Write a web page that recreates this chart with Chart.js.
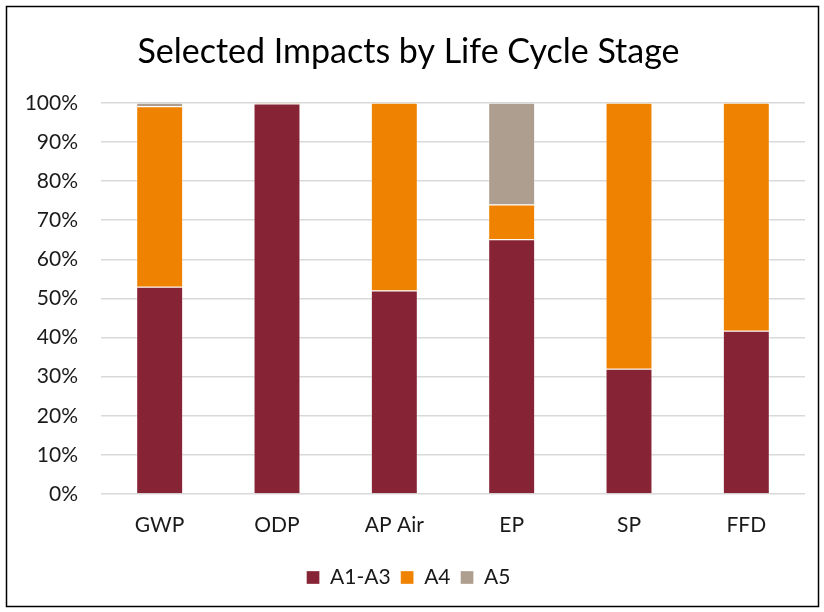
<!DOCTYPE html>
<html>
<head>
<meta charset="utf-8">
<script src="https://cdn.jsdelivr.net/npm/chart.js@4/dist/chart.umd.min.js"></script>
<style>
  html, body { margin: 0; padding: 0; background: #fff; }
  #wrap { width: 824px; height: 612px; position: relative; }
</style>
</head>
<body>
<div id="wrap"><canvas id="canvas1" width="824" height="612"></canvas></div>
<script>
const categories = ['GWP', 'ODP', 'AP Air', 'EP', 'SP', 'FFD'];
const a1a3 = [53.0, 99.8, 52.0, 65.1, 32.0, 41.7];
const a4 = [46.1, 0.2, 48.0, 8.9, 68.0, 58.3];
const a5 = [0.9, 0, 0, 26.0, 0, 0];
const yTicks = [0, 10, 20, 30, 40, 50, 60, 70, 80, 90, 100];

const fontFam = 'Lato, "Open Sans", sans-serif';

// black frame round the whole picture
const framePlugin = {
    id: 'frame',
    afterDraw(chart) {
        const ctx = chart.ctx;
        ctx.save();
        ctx.strokeStyle = '#000';
        ctx.lineWidth = 1.5;
        ctx.strokeRect(6.5, 6.5, chart.width - 12, chart.height - 12);
        ctx.restore();
    }
};

const mk = (label, data, color) => ({
    label: label,
    data: data,
    backgroundColor: color,
    borderColor: 'rgba(255,255,255,0.35)',
    borderWidth: 1,
    categoryPercentage: 1.0,
    barPercentage: 0.4
});

const data = {
    labels: categories,
    datasets: [
        mk('A1-A3', a1a3, '#862334'),
        mk('A4', a4, '#EF8200'),
        mk('A5', a5, '#AD9E90')
    ]
};

const config = {
    type: 'bar',
    data: data,
    plugins: [framePlugin],
    options: {
        responsive: false,
        animation: false,
        layout: { padding: { left: 12, right: 19, top: 10, bottom: 14 } },
        plugins: {
            title: {
                display: true,
                text: 'Selected Impacts by Life Cycle Stage',
                color: '#000',
                font: { family: fontFam, size: 34, weight: 'normal' },
                padding: { top: 22, bottom: 30 }
            },
            legend: {
                display: true,
                position: 'bottom',
                labels: {
                    boxWidth: 13,
                    boxHeight: 13,
                    color: '#1a1a1a',
                    font: { family: fontFam, size: 21 },
                    padding: 10
                }
            },
            tooltip: { enabled: false }
        },
        scales: {
            x: {
                stacked: true,
                afterFit: (scale) => { scale.height = 63; },
                grid: { display: false, drawTicks: false },
                border: { display: false },
                ticks: { color: '#1a1a1a', font: { family: fontFam, size: 21 }, padding: 19 }
            },
            y: {
                stacked: true,
                min: 0,
                max: 100,
                afterFit: (scale) => { scale.width = 89; },
                afterBuildTicks: (scale) => { scale.ticks = yTicks.map(v => ({ value: v })); },
                grid: { color: '#D9D9D9', lineWidth: 1.5, drawTicks: false },
                border: { display: false },
                ticks: {
                    color: '#1a1a1a',
                    font: { family: fontFam, size: 21 },
                    padding: 23,
                    callback: (v) => v + '%'
                }
            }
        }
    }
};

new Chart(document.getElementById('canvas1'), config);
</script>
</body>
</html>
